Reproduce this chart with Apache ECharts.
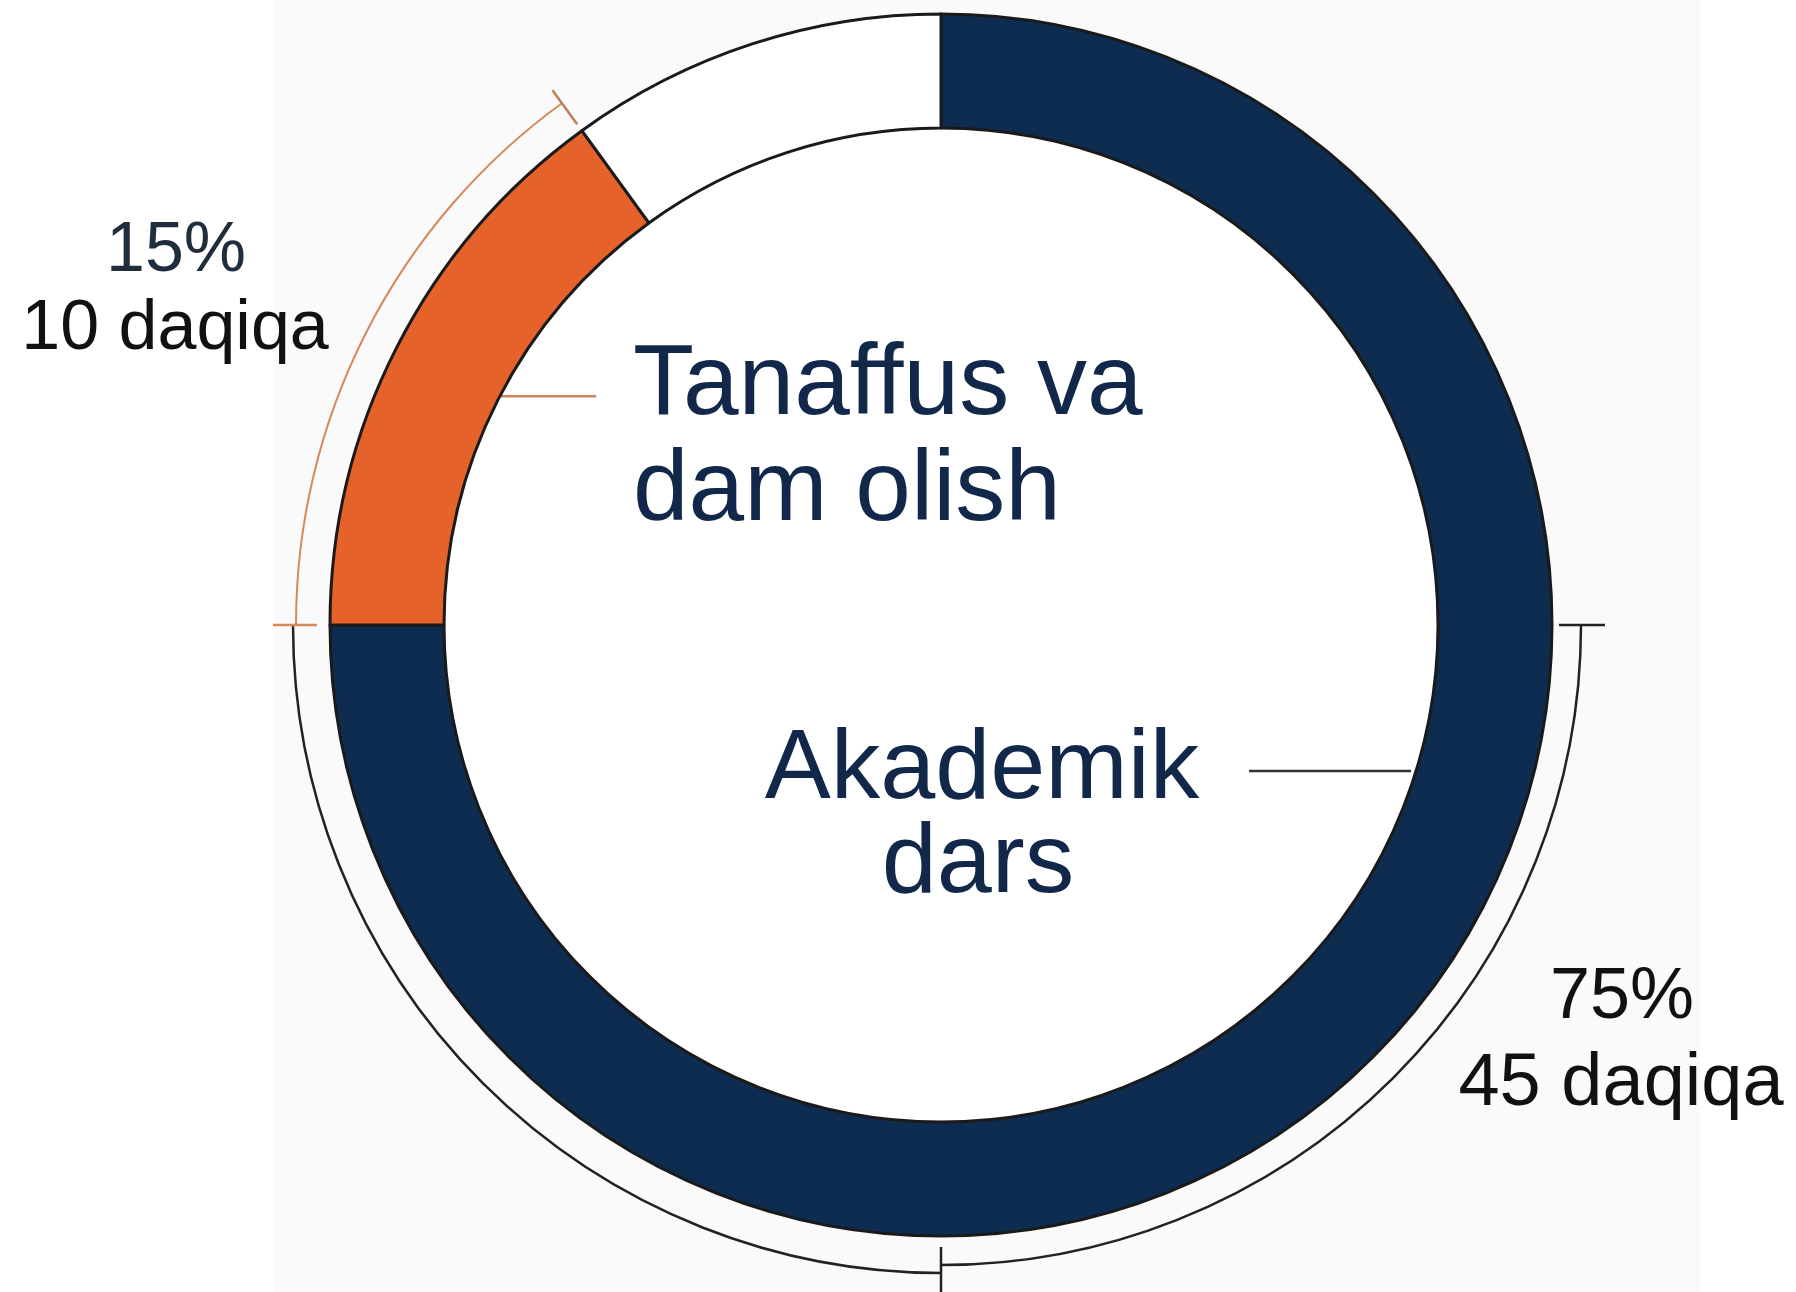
<!DOCTYPE html>
<html>
<head>
<meta charset="utf-8">
<script src="https://cdn.jsdelivr.net/npm/echarts@6/dist/echarts.min.js"></script>
<style>
  html, body { margin: 0; padding: 0; background: #fff; }
  #main { width: 1796px; height: 1292px; }
</style>
</head>
<body>
<div id="main"></div>
<script>
// data
var categories = ["Akademik dars", "Tanaffus va dam olish", "Boshqa"];
var percents = [75, 15, 10];
var minutes = [45, 10];
var colors = ["#0e2c50", "#e6622b", "#ffffff"];

var cx = 941, cy = 625;
var rIn = 497, rOut = 611;
var font = "'Liberation Sans', Arial, sans-serif";

// percent position on the ring -> canvas angle (0 = 12 o'clock, clockwise)
function ang(p) {
  return -Math.PI / 2 + p / 100 * Math.PI * 2;
}
function pt(r, p) {
  var a = ang(p);
  return [cx + r * Math.cos(a), cy + r * Math.sin(a)];
}
function radial(p, r0, r1, color) {
  var a = pt(r0, p), b = pt(r1, p);
  return {
    type: "line", silent: true,
    shape: { x1: a[0], y1: a[1], x2: b[0], y2: b[1] },
    style: { stroke: color, lineWidth: 2.5 }
  };
}
function arc(r, p0, p1, color, w) {
  return {
    type: "arc", silent: true,
    shape: { cx: cx, cy: cy, r: r, startAngle: ang(p0), endAngle: ang(p1), clockwise: true },
    style: { stroke: color, lineWidth: w, fill: null }
  };
}
function txt(x, y, s, size, color, align) {
  return {
    type: "text", silent: true, x: x, y: y,
    style: { text: s, font: size + "px " + font, fill: color, align: align || "center", verticalAlign: "middle" }
  };
}

var orangeStart = percents[0];
var orangeEnd = percents[0] + percents[1];
var orangeMid = (orangeStart + orangeEnd) / 2;
var leadA = pt(rIn, orangeMid);

var chart = echarts.init(document.getElementById("main"));
chart.setOption({
  animation: false,
  backgroundColor: "#ffffff",
  graphic: [
    { type: "rect", silent: true, z: -10, shape: { x: 275, y: 0, width: 1425, height: 1292 }, style: { fill: "#fafafa" } },
    { type: "circle", silent: true, z: -9, shape: { cx: cx, cy: cy, r: rIn }, style: { fill: "#ffffff" } },
    // black bracket (lower half)
    arc(640, 25, 50, "#222222", 2.5),
    arc(648, 50, orangeStart, "#222222", 2.5),
    radial(25, 618, 664, "#222222"),
    radial(50, 622, 680, "#222222"),
    // orange bracket
    arc(645, orangeStart, orangeEnd, "#d8895c", 2),
    radial(orangeStart, 624, 668, "#d8895c"),
    radial(orangeEnd, 619, 661, "#b98060"),
    // leader lines
    {
      type: "line", silent: true,
      shape: { x1: leadA[0], y1: leadA[1] - 3, x2: leadA[0] + 98, y2: leadA[1] - 3 },
      style: { stroke: "#c98358", lineWidth: 2.5 }
    },
    {
      type: "line", silent: true,
      shape: { x1: 1249, y1: 771, x2: 1411, y2: 771 },
      style: { stroke: "#333333", lineWidth: 2.5 }
    },
    // labels
    txt(633, 386, "Tanaffus va", 100, "#11284a", "left"),
    txt(633, 492, "dam olish", 100, "#11284a", "left"),
    txt(982, 771, "Akademik", 99, "#11284a"),
    txt(978, 865, "dars", 99, "#11284a"),
    txt(176, 252, percents[1] + "%", 70, "#1f2d3d"),
    txt(175, 330, minutes[1] + " daqiqa", 70, "#111111"),
    txt(1622, 998, percents[0] + "%", 72, "#111111"),
    txt(1621, 1085, minutes[0] + " daqiqa", 74, "#111111")
  ],
  series: [
    {
      type: "pie",
      silent: true,
      center: [cx, cy],
      radius: [rIn, rOut],
      startAngle: 90,
      clockwise: true,
      label: { show: false },
      labelLine: { show: false },
      itemStyle: { borderColor: "#1a1a1a", borderWidth: 3 },
      data: categories.map(function (c, i) {
        return { name: c, value: percents[i], itemStyle: { color: colors[i] } };
      })
    }
  ]
});
</script>
</body>
</html>
